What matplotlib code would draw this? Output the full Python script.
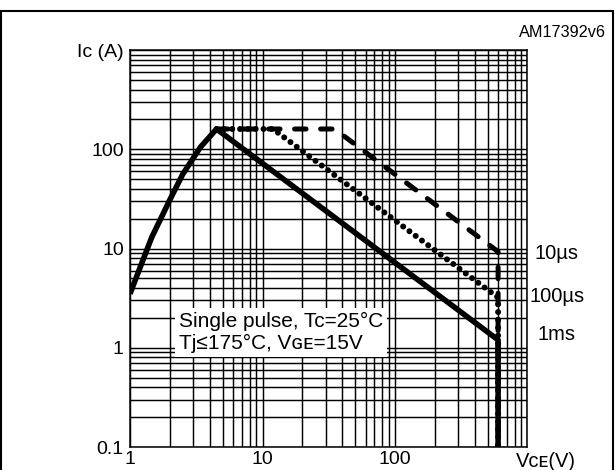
import numpy as np
import matplotlib
matplotlib.use("Agg")
import matplotlib.pyplot as plt
from matplotlib.ticker import FixedLocator, LogLocator, NullFormatter
from matplotlib.patches import Rectangle

plt.rcParams["font.family"] = ["Liberation Sans", "DejaVu Sans"]

# safe operating area, single pulse (V, A)
v_1ms = [1, 1.2, 1.46, 2, 2.5, 3.4, 4.5, 600, 600]
i_1ms = [3.5, 6.6, 13, 31, 56, 105, 160, 1.2, 0.1]
v_100us = [4.5, 12, 600, 600]
i_100us = [160, 160, 3.2, 0.1]
v_10us = [4.5, 35, 600, 600]
i_10us = [160, 160, 9.3, 0.1]

y_ticks = [0.1, 1, 10, 100, 1000]
y_labels = ["0.1", "1", "10", "100", "Ic (A)"]
x_ticks = [1, 10, 100, 1000]
x_labels = ["1", "10", "100", ""]
pulse_labels = ["10µs", "100µs", "1ms"]
pulse_label_y = [9.0, 3.26, 1.35]

fig = plt.figure(figsize=(6.15, 4.70), dpi=100)
ax = fig.add_axes([0.2114, 0.0489, 0.6463, 0.8447])
ax.set_xscale("log"); ax.set_yscale("log")
ax.set_xlim(1, 1000); ax.set_ylim(0.1, 1000)

ax.xaxis.set_major_locator(FixedLocator(x_ticks))
ax.xaxis.set_minor_locator(LogLocator(base=10, subs=np.arange(2, 10), numticks=20))
ax.yaxis.set_major_locator(FixedLocator(y_ticks))
ax.yaxis.set_minor_locator(LogLocator(base=10, subs=np.arange(2, 10), numticks=20))
ax.set_xticklabels(x_labels); ax.set_yticklabels(y_labels)
ax.xaxis.set_minor_formatter(NullFormatter()); ax.yaxis.set_minor_formatter(NullFormatter())
ax.tick_params(which="both", length=0, labelsize=14, colors="black")
ax.tick_params(axis="y", pad=4.5); ax.tick_params(axis="x", pad=3)
ax.grid(which="both", color="black", lw=1.05)
ax.set_axisbelow(True)
for s in ax.spines.values():
    s.set_linewidth(1.1)

ax.plot(v_10us, i_10us, color="black", lw=3.6, ls=(0, (2.3, 2.9)),
        dash_capstyle="round", solid_capstyle="round", zorder=3)
ax.plot(v_100us, i_100us, color="black", lw=4.3, ls=(0, (0.01, 1.3)),
        dash_capstyle="round", zorder=3)
ax.plot(v_1ms, i_1ms, color="black", lw=4.0, solid_joinstyle="round",
        solid_capstyle="butt", zorder=4)

ax.text(2.34, 1.43, "Single pulse, Tc=25°C\nTj≤175°C, Vɢᴇ=15V", fontsize=15,
        ha="left", va="center", linespacing=1.2, zorder=5,
        bbox=dict(facecolor="white", edgecolor="none", pad=3))

for lab, yv in zip(pulse_labels, pulse_label_y):
    ax.text(1.074, yv, lab, transform=ax.get_yaxis_transform(), fontsize=14.5,
            ha="center", va="center")
ax.text(0.97, -0.012, "Vᴄᴇ(V)", transform=ax.transAxes, fontsize=14.5,
        ha="left", va="top", clip_on=False)

fig.text(0.986, 0.93, "AM17392v6", fontsize=11.7, ha="right", va="center")
fig.patches.append(Rectangle((0.002, -0.05), 0.994, 1.027, transform=fig.transFigure,
                             fill=False, edgecolor="black", lw=1.5))

fig.savefig("out.png", dpi=100)
